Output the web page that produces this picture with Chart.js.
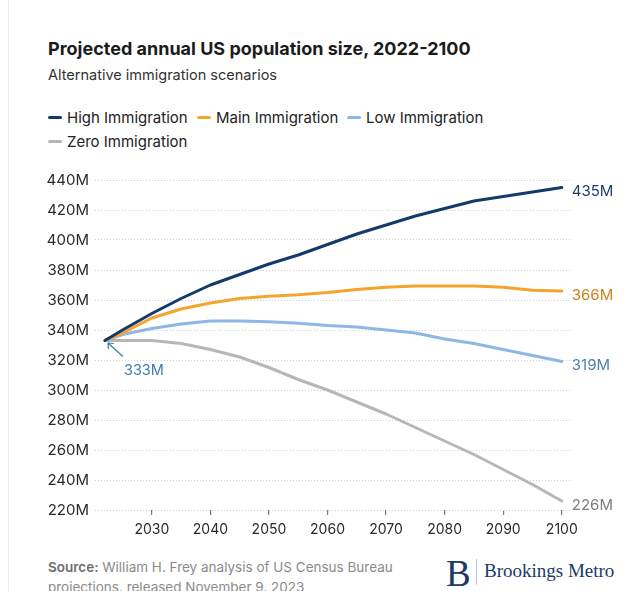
<!DOCTYPE html>
<html>
<head>
<meta charset="utf-8">
<script src="https://cdn.jsdelivr.net/npm/chart.js@4"></script>
<style>
  body { margin: 0; background: #fff; font-family: Inter, "Noto Sans", sans-serif; }
  #page { position: relative; width: 624px; height: 591px; overflow: hidden; }
  #edge { position: absolute; left: 8px; top: 0; width: 1px; height: 591px; background: #ececec; }
  .txt { position: absolute; white-space: nowrap; }
  #title { left: 48px; top: 38px; font-size: 18px; font-weight: 700; color: #1b1b1b; }
  #subtitle { left: 48px; top: 66px; font-size: 14.5px; color: #333; }
  .leg { position: absolute; font-size: 15px; color: #222; white-space: nowrap; }
  .leg i { display: inline-block; width: 14px; height: 3px; border-radius: 2px; vertical-align: middle; margin-right: 5px; position: relative; top: -1px; }
  #source { left: 48px; top: 557px; font-size: 13.5px; color: #8a8a8a; line-height: 20px; }
  #source b { color: #6e6e6e; font-weight: 600; }
  #logoB { left: 446px; top: 552px; font-family: "Liberation Serif", serif; font-size: 37px; color: #1b3a66; }
  #logoBar { position: absolute; left: 476px; top: 559px; width: 1px; height: 26px; background: #b9c2cf; }
  #logoText { left: 484px; top: 560px; font-family: "Liberation Serif", serif; font-size: 19px; color: #1b3a66; }
  #chart { position: absolute; left: 0; top: 160px; }
</style>
</head>
<body>
<div id="page">
  <div id="edge"></div>
  <div class="txt" id="title">Projected annual US population size, 2022-2100</div>
  <div class="txt" id="subtitle">Alternative immigration scenarios</div>
  <div id="legend"></div>
  <canvas id="chart" width="624" height="390"></canvas>
  <div class="txt" id="source"><b>Source:</b> William H. Frey analysis of US Census Bureau<br>projections, released November 9, 2023</div>
  <div class="txt" id="logoB">B</div>
  <div id="logoBar"></div>
  <div class="txt" id="logoText">Brookings Metro</div>
</div>
<script>
'use strict';

const years = [2022, 2025, 2030, 2035, 2040, 2045, 2050, 2055, 2060, 2065, 2070, 2075, 2080, 2085, 2090, 2095, 2100];
const highImmigration = [333, 340, 351, 361, 370, 377, 384, 390, 397, 404, 410, 416, 421, 426, 429, 432, 435];
const mainImmigration = [333, 338, 348, 354, 358, 361, 362.5, 363.5, 365, 367, 368.5, 369.3, 369.3, 369.3, 368.5, 366.5, 366];
const lowImmigration = [333, 337, 341, 344, 346, 346, 345.5, 344.5, 343, 342, 340, 338, 334, 331, 327, 323, 319];
const zeroImmigration = [333, 333, 333, 331, 327, 322, 315, 307, 300, 292, 284, 275, 266, 257, 247, 237, 226];
const xTickYears = [2030, 2040, 2050, 2060, 2070, 2080, 2090, 2100];
const seriesNames = ['High Immigration', 'Main Immigration', 'Low Immigration', 'Zero Immigration'];
const endLabels = ['435M', '366M', '319M', '226M'];

const lineColors = ['#123a6b', '#f5a52b', '#8db8e6', '#b7b7b7'];
const labelColors = ['#1d3d6b', '#c9821e', '#4d7fb6', '#7d7d7d'];

// legend as html
const legendSpots = [[48, 108], [197, 108], [347, 108], [48, 132]];
const legendElem = document.getElementById('legend');
for (let i = 0; i < seriesNames.length; i++) {
  const d = document.createElement('div');
  d.className = 'leg';
  d.style.left = legendSpots[i][0] + 'px';
  d.style.top = legendSpots[i][1] + 'px';
  d.innerHTML = '<i style="background:' + lineColors[i] + '"></i>' + seriesNames[i];
  legendElem.appendChild(d);
}

function toPoints(values) {
  const pts = [];
  for (let i = 0; i < years.length; i++) {
    pts.push({ x: years[i], y: values[i] });
  }
  return pts;
}

const endLabelPlugin = {
  id: 'endLabels',
  afterDatasetsDraw(chart) {
    const ctx = chart.ctx;
    ctx.save();
    ctx.font = '15px Inter, sans-serif';
    ctx.textBaseline = 'middle';
    ctx.textAlign = 'left';
    chart.data.datasets.forEach((ds, i) => {
      const pts = chart.getDatasetMeta(i).data;
      const last = pts[pts.length - 1];
      ctx.fillStyle = labelColors[i];
      ctx.fillText(endLabels[i], last.x + 10, last.y + 4);
    });

    // start value callout
    const first = chart.getDatasetMeta(0).data[0];
    const x0 = first.x, y0 = first.y;
    ctx.strokeStyle = '#3f7bb3';
    ctx.lineWidth = 1.2;
    ctx.beginPath();
    ctx.moveTo(x0 + 18, y0 + 16);
    ctx.lineTo(x0 + 3, y0 + 2.5);
    ctx.moveTo(x0 + 3, y0 + 2.5);
    ctx.lineTo(x0 + 9, y0 + 3);
    ctx.moveTo(x0 + 3, y0 + 2.5);
    ctx.lineTo(x0 + 3.5, y0 + 8.5);
    ctx.stroke();
    ctx.fillStyle = '#3f7bb3';
    ctx.font = '14.5px Inter, sans-serif';
    ctx.fillText('333M', x0 + 19, y0 + 30);
    ctx.restore();
  }
};

new Chart(document.getElementById('chart'), {
  type: 'line',
  data: {
    datasets: [
      { label: seriesNames[0], data: toPoints(highImmigration), borderColor: lineColors[0] },
      { label: seriesNames[1], data: toPoints(mainImmigration), borderColor: lineColors[1] },
      { label: seriesNames[2], data: toPoints(lowImmigration), borderColor: lineColors[2] },
      { label: seriesNames[3], data: toPoints(zeroImmigration), borderColor: lineColors[3] },
    ],
  },
  options: {
    responsive: false,
    animation: false,
    events: [],
    elements: {
      line: { borderWidth: 3, tension: 0, borderCapStyle: 'round', borderJoinStyle: 'round' },
      point: { radius: 0 },
    },
    layout: { padding: { top: 20, right: 54, left: 0, bottom: 0 } },
    plugins: {
      legend: { display: false },
      tooltip: { enabled: false },
    },
    scales: {
      x: {
        type: 'linear',
        min: 2020.3,
        max: 2101.4,
        afterBuildTicks: (scale) => {
          scale.ticks = xTickYears.map(v => ({ value: v }));
        },
        afterFit: (scale) => { scale.height = 40; },
        grid: {
          drawOnChartArea: false,
          drawTicks: true,
          tickLength: 5,
          color: '#777',
          lineWidth: 1.2,
        },
        border: { display: false },
        ticks: {
          callback: (v) => String(v),
          font: { family: 'Inter', size: 14 },
          color: '#2a2a2a',
          padding: 6,
          maxRotation: 0,
        },
      },
      y: {
        min: 220,
        max: 440,
        afterFit: (scale) => { scale.width = 95; },
        grid: {
          drawTicks: false,
          color: '#cfcfcf',
          lineWidth: 1,
        },
        border: { display: false, dash: [1, 2] },
        ticks: {
          stepSize: 20,
          callback: (v) => v + 'M',
          font: { family: 'Inter', size: 15 },
          color: '#2a2a2a',
          padding: 6,
        },
      },
    },
  },
  plugins: [endLabelPlugin],
});
</script>
</body>
</html>
